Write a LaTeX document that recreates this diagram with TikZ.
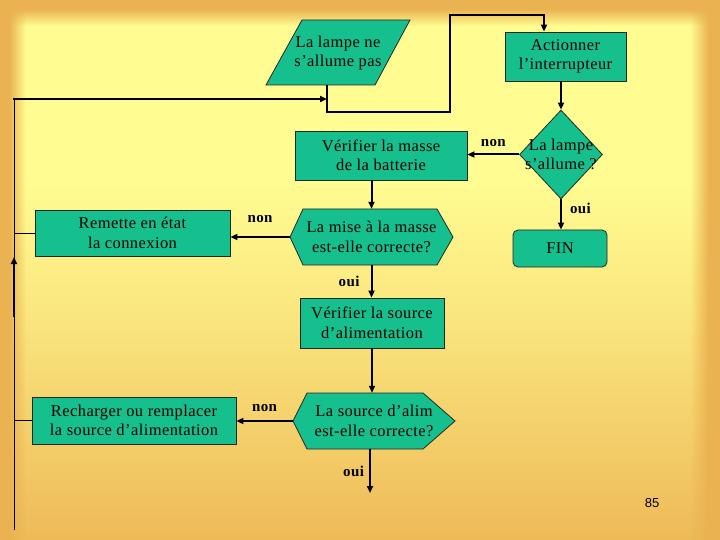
\documentclass[tikz,border=0pt]{standalone}
\usepackage{fontspec}
\setmainfont{Liberation Serif}[LetterSpace=2.5]
\newfontfamily\numfont{Liberation Sans}
\usetikzlibrary{shapes.geometric,arrows.meta,fadings,calc}
\definecolor{boxfill}{RGB}{22,192,142}
\definecolor{bgyellow}{RGB}{255,252,145}
\definecolor{bgmid}{RGB}{250,228,125}
\definecolor{bgorange}{RGB}{238,186,88}
\definecolor{edgeorange}{RGB}{234,178,80}
\pgfdeclareverticalshading{bgshade}{100bp}{%
  color(0bp)=(bgorange); color(25bp)=(bgorange); color(45bp)=(bgmid);
  color(58bp)=(bgyellow); color(72bp)=(bgyellow); color(75bp)=(bgyellow);
  color(100bp)=(bgyellow)}
\begin{document}
\begin{tikzpicture}[x=1pt,y=-1pt,
  txt/.style={font=\fontsize{16.5}{19.5}\selectfont, align=center, text=black},
  box/.style={draw=black!85, line width=0.8pt, fill=boxfill},
  lbl/.style={font=\fontsize{15}{17}\selectfont\bfseries, inner sep=1pt},
  arr/.style={line width=2pt, -{Triangle[length=7pt,width=6pt]}},
  ln/.style={line width=2pt},
  thinln/.style={line width=1pt}]
% background
\useasboundingbox (0,0) rectangle (720,540);
\shade[shading=bgshade] (0,0) rectangle (720,540);
\fill[edgeorange] (0,0) rectangle (720,9);
\fill[edgeorange, path fading=south] (0,9) rectangle (720,26);
\fill[edgeorange] (0,0) rectangle (9,540);
\fill[edgeorange, path fading=east] (9,0) rectangle (26,540);
\fill[edgeorange] (709,0) rectangle (720,540);
\fill[edgeorange, path fading=west] (690,0) rectangle (709,540);

% shapes
\draw[box] (302,20) -- (410,20) -- (375,85) -- (266,85) -- cycle;
\node[txt] (p) at (338,53) {La lampe ne\\s’allume pas};
\coordinate (pout) at (327,85);

\node[box, txt, minimum width=121, minimum height=49, inner sep=0] (act) at (565.5,56.5) {Actionner\\l’interrupteur};

\node[box, diamond, minimum width=83, minimum height=89, inner sep=0] (d) at (561,154.5) {};
\node[txt] (dt) at (d) {La lampe\\s’allume ?};

\node[box, txt, minimum width=172, minimum height=49, inner sep=0] (mv) at (381,155.5) {Vérifier la masse\\de la batterie};

\node[box, txt, rounded corners=5pt, minimum width=94, minimum height=37, inner sep=0] (fin) at (560,248.5) {FIN};

\draw[box] (290,237) -- (303,209) -- (437,209) -- (453,237) -- (437,265) -- (303,265) -- cycle;
\node[txt, minimum width=163, minimum height=56, inner sep=0] (h1) at (371.5,237) {La mise à la masse\\est-elle correcte?};

\node[box, txt, minimum width=195, minimum height=46, inner sep=0] (rem) at (132.5,233) {Remette en état\\la connexion};

\node[box, txt, minimum width=144, minimum height=50, inner sep=0] (vs) at (372,323) {Vérifier la source\\d’alimentation};

\draw[box] (293,421) -- (307,393) -- (423,393) -- (455,421) -- (423,449) -- (307,449) -- cycle;
\node[txt, minimum width=162, minimum height=56, inner sep=0] (h2) at (374,421) {La source d’alim\\est-elle correcte?};

\node[box, txt, minimum width=204, minimum height=47, inner sep=0] (rech) at (134,420.5) {Recharger ou remplacer\\la source d’alimentation};

% connectors
\coordinate (c1) at (327,112);
\coordinate (c2) at (450,112);
\coordinate (c3) at (450,15);
\coordinate (c4) at (544,15);
\draw[arr] (pout) -- (c1) -- (c2) -- (c3) -- (c4) -- (c4 |- act.north);

\draw[arr] (d.north |- act.south) -- (d.north);
\draw[arr] (d.west) -- node[lbl, above=6pt] {non} (d.west -| mv.east);
\draw[arr] (d.south) -- node[lbl, right=7pt, pos=0.3] {oui} (d.south |- fin.north);

\draw[arr] (h1.north |- mv.south) -- (h1.north);
\draw[arr] (h1.west) -- node[lbl, above=12pt] {non} (h1.west -| rem.east);
\draw[arr] (h1.south) -- node[lbl, left=10pt] {oui} (h1.south |- vs.north);

\draw[arr] (vs.south) -- (vs.south |- h2.north);
\draw[arr] (h2.west) -- node[lbl, above=7pt] {non} (h2.west -| rech.east);
\coordinate (endout) at (370,493);
\draw[arr] (endout |- h2.south) -- node[lbl, left=4pt] {oui} (endout);

% return line
\coordinate (lb) at (14,530);
\coordinate (la0) at (14,317);
\coordinate (la) at (14,257);
\coordinate (lt) at (14,99);
\coordinate (ret) at (327,99);
\draw[thinln] (lb) -- (lt);
\draw[arr] (la0) -- (la);
\draw[arr, shorten <=-1pt] (lt) -- (ret);
\draw[thinln] (rem.west) -- (rem.west -| lt);
\draw[thinln] (rech.west) -- (rech.west -| lt);

\node[font=\numfont\fontsize{13}{15}\selectfont] (pg) at (652,503) {85};
\end{tikzpicture}
\end{document}
